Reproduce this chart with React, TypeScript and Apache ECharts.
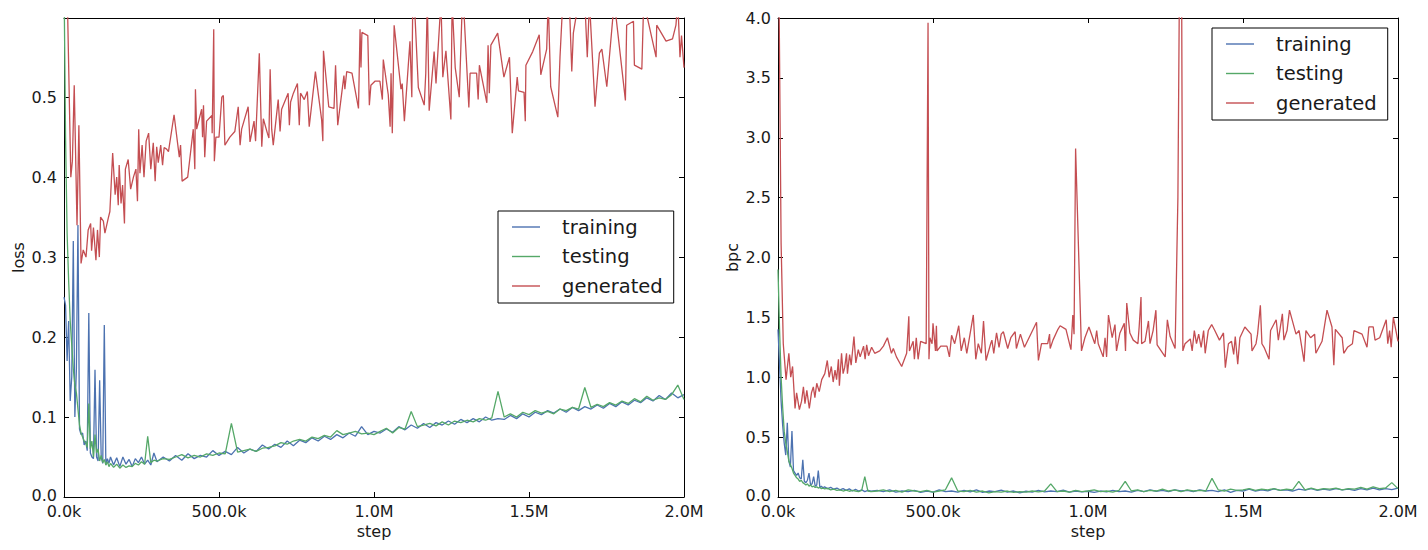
import React, { useEffect, useRef } from "react";
import * as echarts from "echarts";

// shared x positions (thousands of steps) for training / testing curves
const steps = [
  0, 5, 10, 15, 20, 25, 30, 35, 40, 45, 50, 55, 60, 65, 70, 75, 80, 85, 90, 95,
  100, 105, 110, 115, 120, 125, 130, 135, 140, 145,
  150, 160, 170, 180, 190, 200, 210, 220, 230, 240, 250, 260, 270, 280, 290, 300,
  320, 340, 360, 380, 400, 420, 440, 460, 480, 500,
  520, 540, 560, 580, 600, 620, 640, 660, 680, 700,
  720, 740, 760, 780, 800, 820, 840, 860, 880, 900,
  920, 940, 960, 980, 1000, 1020, 1040, 1060, 1080, 1100,
  1120, 1140, 1160, 1180, 1200, 1220, 1240, 1260, 1280, 1300,
  1320, 1340, 1360, 1380, 1400, 1420, 1440, 1460, 1480, 1500,
  1520, 1540, 1560, 1580, 1600, 1620, 1640, 1660, 1680, 1700,
  1720, 1740, 1760, 1780, 1800, 1820, 1840, 1860, 1880, 1900,
  1920, 1940, 1960, 1980, 2000,
];

const lossTraining = [
  0.25, 0.24, 0.17, 0.22, 0.12, 0.15, 0.32, 0.10, 0.16, 0.34, 0.085, 0.078, 0.08, 0.065, 0.07, 0.058, 0.23, 0.055, 0.05, 0.048,
  0.159, 0.05, 0.045, 0.146, 0.05, 0.042, 0.215, 0.04, 0.048, 0.042,
  0.05, 0.04, 0.049, 0.038, 0.05, 0.041, 0.047, 0.038, 0.048, 0.043, 0.05, 0.041, 0.046, 0.04, 0.055, 0.044,
  0.05, 0.045, 0.052, 0.046, 0.054, 0.048, 0.052, 0.05, 0.058, 0.052,
  0.057, 0.053, 0.062, 0.055, 0.06, 0.057, 0.065, 0.06, 0.066, 0.062,
  0.07, 0.064, 0.071, 0.068, 0.074, 0.07, 0.076, 0.072, 0.078, 0.074,
  0.08, 0.076, 0.088, 0.078, 0.082, 0.08, 0.085, 0.081, 0.088, 0.084,
  0.09, 0.086, 0.092, 0.087, 0.093, 0.09, 0.095, 0.091, 0.097, 0.093,
  0.098, 0.094, 0.1, 0.096, 0.098, 0.097, 0.102, 0.098, 0.104, 0.1,
  0.106, 0.103, 0.108, 0.105, 0.11, 0.106, 0.112, 0.108, 0.113, 0.11,
  0.115, 0.111, 0.117, 0.113, 0.119, 0.115, 0.121, 0.118, 0.124, 0.12,
  0.127, 0.122, 0.13, 0.124, 0.128,
];

const lossTesting = [
  0.65, 0.45, 0.33, 0.27, 0.22, 0.19, 0.16, 0.14, 0.13, 0.11, 0.09, 0.08, 0.075, 0.07, 0.068, 0.062, 0.117, 0.06, 0.07, 0.05,
  0.078, 0.055, 0.06, 0.045, 0.052, 0.043, 0.047, 0.04, 0.044, 0.038,
  0.042, 0.037, 0.041, 0.036, 0.04, 0.037, 0.039, 0.038, 0.042, 0.04, 0.044, 0.041, 0.076, 0.043, 0.046, 0.045,
  0.048, 0.047, 0.05, 0.053, 0.049, 0.052, 0.05, 0.054, 0.052, 0.055,
  0.054, 0.092, 0.056, 0.058, 0.06, 0.057, 0.061, 0.062, 0.064, 0.068,
  0.066, 0.07, 0.072, 0.07, 0.075, 0.073, 0.077, 0.075, 0.083, 0.078,
  0.08, 0.082, 0.079, 0.08, 0.078, 0.082, 0.086, 0.08, 0.087, 0.085,
  0.107, 0.088, 0.09, 0.092, 0.089, 0.094, 0.09, 0.095, 0.093, 0.096,
  0.094, 0.098, 0.096, 0.099, 0.132, 0.1, 0.104, 0.1, 0.106, 0.103,
  0.108, 0.105, 0.107, 0.104, 0.11, 0.108, 0.112, 0.11, 0.137, 0.112,
  0.116, 0.113, 0.118, 0.115, 0.12, 0.117, 0.123, 0.119, 0.126, 0.121,
  0.124, 0.122, 0.128, 0.14, 0.122,
];

const bpcTraining = [
  1.4, 1.1, 0.8, 0.6, 0.45, 0.35, 0.62, 0.3, 0.25, 0.55, 0.22, 0.2, 0.18, 0.2, 0.16, 0.15, 0.31, 0.13, 0.12, 0.14,
  0.2, 0.1, 0.11, 0.17, 0.09, 0.1, 0.22, 0.08, 0.09, 0.075,
  0.085, 0.07, 0.08, 0.065, 0.075, 0.06, 0.07, 0.055, 0.068, 0.05, 0.065, 0.05, 0.06, 0.045, 0.055, 0.048,
  0.055, 0.045, 0.06, 0.04, 0.05, 0.045, 0.055, 0.038, 0.05, 0.04,
  0.06, 0.045, 0.05, 0.04, 0.055, 0.042, 0.06, 0.038, 0.05, 0.045,
  0.058, 0.04, 0.05, 0.035, 0.048, 0.04, 0.055, 0.042, 0.05, 0.045,
  0.058, 0.04, 0.05, 0.042, 0.048, 0.038, 0.05, 0.042, 0.055, 0.045,
  0.05, 0.04, 0.055, 0.045, 0.06, 0.048, 0.055, 0.045, 0.06, 0.05,
  0.055, 0.045, 0.06, 0.05, 0.055, 0.045, 0.06, 0.038, 0.055, 0.05,
  0.065, 0.05, 0.06, 0.052, 0.068, 0.055, 0.06, 0.05, 0.065, 0.058,
  0.07, 0.055, 0.065, 0.058, 0.07, 0.06, 0.065, 0.055, 0.07, 0.06,
  0.075, 0.06, 0.07, 0.062, 0.075,
];

const bpcTesting = [
  1.9, 1.4, 1.0, 0.75, 0.55, 0.45, 0.38, 0.3, 0.27, 0.24, 0.2, 0.18, 0.16, 0.15, 0.13, 0.14, 0.12, 0.11, 0.1, 0.11,
  0.09, 0.1, 0.085, 0.09, 0.08, 0.085, 0.075, 0.08, 0.07, 0.075,
  0.068, 0.072, 0.06, 0.065, 0.055, 0.06, 0.05, 0.058, 0.048, 0.055, 0.05, 0.045, 0.055, 0.17, 0.05, 0.045,
  0.05, 0.06, 0.045, 0.055, 0.04, 0.06, 0.05, 0.045, 0.055, 0.04,
  0.05, 0.06, 0.16, 0.05, 0.045, 0.055, 0.04, 0.05, 0.035, 0.045,
  0.04, 0.05, 0.038, 0.045, 0.04, 0.05, 0.042, 0.05, 0.11, 0.045,
  0.05, 0.04, 0.055, 0.045, 0.05, 0.06, 0.045, 0.05, 0.04, 0.055,
  0.13, 0.05, 0.06, 0.045, 0.055, 0.05, 0.065, 0.05, 0.06, 0.045,
  0.06, 0.05, 0.055, 0.05, 0.156, 0.06, 0.05, 0.065, 0.055, 0.06,
  0.07, 0.055, 0.065, 0.06, 0.07, 0.055, 0.065, 0.06, 0.13, 0.06,
  0.075, 0.06, 0.07, 0.065, 0.075, 0.06, 0.07, 0.065, 0.08, 0.065,
  0.085, 0.07, 0.075, 0.12, 0.07,
];

// generated curves: [step (k), value]
const lossGenerated = [
  [0, 0.7], [12, 0.6], [22, 0.4], [27, 0.42], [33, 0.515], [42, 0.34], [48, 0.465], [55, 0.292], [62, 0.309], [71, 0.3],
  [78, 0.334], [86, 0.342], [89, 0.308], [95, 0.337], [103, 0.296], [108, 0.334], [114, 0.3], [118, 0.35], [127, 0.345], [132, 0.33],
  [143, 0.349], [148, 0.357], [157, 0.43], [165, 0.378], [170, 0.4], [175, 0.365], [178, 0.415], [184, 0.367], [189, 0.39], [195, 0.342],
  [198, 0.41], [207, 0.422], [215, 0.385], [224, 0.4], [232, 0.41], [237, 0.37], [241, 0.46], [245, 0.405], [252, 0.44], [258, 0.4],
  [265, 0.445], [273, 0.455], [280, 0.41], [288, 0.443], [294, 0.395], [299, 0.438], [304, 0.418], [312, 0.44], [318, 0.415], [323, 0.437],
  [331, 0.435], [337, 0.432], [355, 0.478], [372, 0.425], [376, 0.44], [381, 0.395], [399, 0.4], [417, 0.46], [422, 0.41], [424, 0.51],
  [428, 0.46], [444, 0.485], [447, 0.45], [450, 0.49], [454, 0.425], [460, 0.47], [477, 0.477], [478, 0.455], [483, 0.585], [485, 0.42],
  [490, 0.45], [500, 0.45], [509, 0.5], [514, 0.502], [519, 0.44], [535, 0.45], [551, 0.457], [562, 0.488], [568, 0.44], [573, 0.46],
  [594, 0.488], [600, 0.444], [613, 0.47], [618, 0.445], [630, 0.555], [638, 0.438], [643, 0.473], [656, 0.455], [661, 0.449], [665, 0.535],
  [670, 0.46], [675, 0.44], [691, 0.497], [697, 0.457], [702, 0.485], [723, 0.505], [727, 0.465], [731, 0.494], [740, 0.505], [753, 0.517],
  [759, 0.465], [763, 0.505], [775, 0.497], [785, 0.507], [791, 0.463], [811, 0.532], [831, 0.472], [835, 0.445], [837, 0.558], [854, 0.488],
  [871, 0.486], [876, 0.54], [883, 0.465], [903, 0.527], [906, 0.51], [912, 0.532], [929, 0.53], [950, 0.486], [955, 0.585], [958, 0.537],
  [961, 0.581], [980, 0.577], [985, 0.49], [990, 0.515], [1003, 0.52], [1019, 0.52], [1027, 0.497], [1030, 0.547], [1046, 0.503], [1052, 0.463],
  [1055, 0.53], [1059, 0.455], [1065, 0.59], [1087, 0.51], [1091, 0.517], [1098, 0.47], [1116, 0.57], [1122, 0.5], [1125, 0.62], [1130, 0.62],
  [1143, 0.512], [1162, 0.49], [1167, 0.53], [1172, 0.62], [1178, 0.483], [1194, 0.557], [1200, 0.517], [1216, 0.62], [1222, 0.525], [1232, 0.558],
  [1248, 0.472], [1252, 0.62], [1262, 0.537], [1275, 0.5], [1285, 0.62], [1291, 0.6], [1306, 0.487], [1310, 0.53], [1331, 0.53], [1336, 0.497],
  [1340, 0.54], [1345, 0.53], [1364, 0.493], [1368, 0.565], [1372, 0.505], [1377, 0.565], [1399, 0.58], [1419, 0.525], [1437, 0.55], [1446, 0.455],
  [1462, 0.525], [1466, 0.508], [1484, 0.506], [1488, 0.47], [1490, 0.54], [1512, 0.557], [1533, 0.578], [1538, 0.528], [1557, 0.56], [1562, 0.62],
  [1570, 0.513], [1593, 0.475], [1600, 0.55], [1609, 0.62], [1630, 0.62], [1638, 0.532], [1643, 0.58], [1660, 0.62], [1680, 0.62], [1688, 0.55],
  [1695, 0.62], [1713, 0.488], [1727, 0.555], [1735, 0.56], [1751, 0.513], [1775, 0.62], [1811, 0.496], [1815, 0.59], [1837, 0.595], [1840, 0.54],
  [1864, 0.535], [1870, 0.62], [1910, 0.55], [1912, 0.59], [1942, 0.57], [1963, 0.573], [1974, 0.59], [1980, 0.62], [1987, 0.55], [1992, 0.577],
  [2000, 0.537],
];

const bpcGenerated = [
  [0, 4.3], [4, 3.98], [10, 2.12], [17, 1.28], [26, 0.98], [35, 1.2], [41, 1.0], [47, 1.09], [55, 0.74], [60, 0.87],
  [69, 0.73], [76, 0.8], [82, 0.92], [87, 0.78], [93, 0.89], [101, 0.74], [108, 0.87], [114, 0.92], [119, 0.83], [125, 0.95],
  [133, 0.88], [141, 0.98], [151, 1.03], [159, 1.14], [165, 1.0], [172, 1.09], [178, 0.96], [184, 1.06], [189, 0.98], [195, 1.15],
  [198, 0.93], [205, 1.2], [210, 1.03], [215, 1.08], [221, 1.2], [224, 1.03], [231, 1.19], [236, 1.1], [245, 1.34], [251, 1.12],
  [259, 1.23], [265, 1.17], [276, 1.26], [281, 1.15], [286, 1.27], [292, 1.18], [302, 1.25], [312, 1.2], [328, 1.22], [340, 1.26],
  [353, 1.33], [366, 1.2], [372, 1.24], [382, 1.17], [399, 1.09], [415, 1.2], [422, 1.51], [424, 1.22], [436, 1.3], [440, 1.15],
  [446, 1.33], [452, 1.15], [460, 1.3], [478, 1.28], [484, 3.96], [487, 1.15], [490, 1.33], [497, 1.28], [500, 1.45], [508, 1.22],
  [511, 1.43], [513, 1.22], [525, 1.26], [545, 1.26], [553, 1.17], [560, 1.35], [570, 1.28], [583, 1.43], [591, 1.22], [601, 1.33],
  [609, 1.2], [630, 1.52], [638, 1.15], [646, 1.28], [656, 1.2], [663, 1.47], [671, 1.14], [686, 1.28], [690, 1.31], [696, 1.2],
  [705, 1.37], [713, 1.25], [720, 1.36], [727, 1.38], [741, 1.24], [751, 1.33], [765, 1.38], [769, 1.24], [782, 1.36], [795, 1.25],
  [834, 1.46], [840, 1.14], [850, 1.28], [870, 1.28], [876, 1.36], [878, 1.24], [887, 1.31], [903, 1.4], [910, 1.43], [929, 1.4],
  [945, 1.23], [951, 1.52], [955, 1.36], [960, 2.91], [979, 1.22], [990, 1.33], [1003, 1.42], [1022, 1.28], [1028, 1.39], [1033, 1.28],
  [1049, 1.17], [1055, 1.33], [1060, 1.17], [1066, 1.52], [1078, 1.33], [1087, 1.44], [1092, 1.22], [1103, 1.37], [1117, 1.45], [1121, 1.22],
  [1125, 1.62], [1135, 1.37], [1146, 1.31], [1161, 1.28], [1165, 1.42], [1171, 1.67], [1173, 1.28], [1184, 1.3], [1195, 1.47], [1200, 1.28],
  [1210, 1.39], [1219, 1.56], [1223, 1.27], [1249, 1.17], [1256, 1.48], [1265, 1.34], [1281, 1.24], [1290, 2.5], [1295, 4.3], [1302, 4.3],
  [1306, 1.22], [1313, 1.28], [1330, 1.32], [1336, 1.22], [1343, 1.39], [1350, 1.28], [1357, 1.36], [1365, 1.25], [1373, 1.39], [1378, 1.2],
  [1388, 1.39], [1399, 1.44], [1409, 1.39], [1424, 1.31], [1437, 1.37], [1443, 1.08], [1453, 1.28], [1463, 1.3], [1470, 1.19], [1475, 1.34],
  [1483, 1.11], [1490, 1.33], [1506, 1.42], [1526, 1.36], [1529, 1.22], [1542, 1.28], [1547, 1.36], [1556, 1.6], [1561, 1.28], [1568, 1.25],
  [1584, 1.15], [1589, 1.39], [1607, 1.48], [1614, 1.31], [1627, 1.53], [1632, 1.31], [1642, 1.39], [1650, 1.56], [1671, 1.36], [1681, 1.39],
  [1697, 1.13], [1703, 1.39], [1718, 1.33], [1731, 1.36], [1735, 1.2], [1755, 1.3], [1771, 1.56], [1787, 1.42], [1793, 1.1], [1798, 1.4],
  [1820, 1.33], [1825, 1.2], [1837, 1.25], [1853, 1.28], [1858, 1.39], [1884, 1.36], [1900, 1.25], [1906, 1.42], [1920, 1.42], [1926, 1.31],
  [1941, 1.33], [1962, 1.48], [1967, 1.28], [1973, 1.39], [1978, 1.25], [1985, 1.5], [2000, 1.3],
];

const stepTickValues = [0, 500, 1000, 1500, 2000];
const stepTickLabels = ["0.0k", "500.0k", "1.0M", "1.5M", "2.0M"];
const lossTickLabels = ["0.0", "0.1", "0.2", "0.3", "0.4", "0.5"];
const bpcTickLabels = ["0.0", "0.5", "1.0", "1.5", "2.0", "2.5", "3.0", "3.5", "4.0"];
const seriesNames = ["training", "testing", "generated"];
const colors = ["#4C72B0", "#55A868", "#C44E52"];

const FONT = "DejaVu Sans";
const TXT = "#1a1a1a";

function pairs(xs: number[], ys: number[]) {
  return xs.map((x, i) => [x, ys[i]]);
}

function stepLabel(v: number) {
  const i = stepTickValues.indexOf(v);
  return i >= 0 ? stepTickLabels[i] : "";
}

function tickLabel(labels: string[], step: number) {
  return (v: number) => {
    const i = Math.round(v / step);
    if (Math.abs(v - i * step) > 1e-6 || i < 0 || i >= labels.length) return "";
    return i === 0 ? "{lo|" + labels[i] + "}" : labels[i];
  };
}

const axisLineStyle = { show: true, lineStyle: { color: "#000", width: 1 } };
const tickStyle = { show: true, inside: true, length: 5, lineStyle: { color: "#000", width: 1 } };

function xAxes(grid: number) {
  return [
    {
      gridIndex: grid, type: "value", position: "bottom", min: 0, max: 2000, interval: 500,
      axisLine: { ...axisLineStyle, onZero: false }, axisTick: tickStyle, splitLine: { show: false },
      axisLabel: { formatter: stepLabel, fontFamily: FONT, fontSize: 16, color: TXT, margin: 7, lineHeight: 14 },
      name: "step", nameLocation: "middle", nameGap: 26,
      nameTextStyle: { fontFamily: FONT, fontSize: 16, color: TXT },
    },
    {
      gridIndex: grid, type: "value", position: "top", min: 0, max: 2000, interval: 500,
      axisLine: { ...axisLineStyle, onZero: false }, axisTick: tickStyle, splitLine: { show: false },
      axisLabel: { show: false },
    },
  ];
}

function yAxes(grid: number, max: number, interval: number, labels: string[], name: string) {
  return [
    {
      gridIndex: grid, type: "value", position: "left", min: 0, max, interval,
      axisLine: { ...axisLineStyle, onZero: false }, axisTick: tickStyle, splitLine: { show: false },
      axisLabel: {
        formatter: tickLabel(labels, interval), fontFamily: FONT, fontSize: 16, color: TXT, margin: 7, lineHeight: 12,
        rich: { lo: { fontFamily: FONT, fontSize: 16, color: TXT, lineHeight: 12, padding: [0, 0, 4, 0] } },
      },
      name, nameLocation: "middle", nameGap: 38, nameRotate: 90,
      nameTextStyle: { fontFamily: FONT, fontSize: 16, color: TXT },
    },
    {
      gridIndex: grid, type: "value", position: "right", min: 0, max, interval,
      axisLine: { ...axisLineStyle, onZero: false }, axisTick: tickStyle, splitLine: { show: false },
      axisLabel: { show: false },
    },
  ];
}

function line(name: string, color: string, data: number[][], xi: number, yi: number) {
  return {
    type: "line", name, data, xAxisIndex: xi, yAxisIndex: yi,
    symbol: "none", showSymbol: false, clip: true,
    lineStyle: { color, width: 1.3 }, itemStyle: { color },
  };
}

function legend(left: number, top: number) {
  return {
    data: seriesNames, orient: "vertical", left, top,
    borderColor: "#000", borderWidth: 1, borderRadius: 0, backgroundColor: "#fff",
    padding: [5, 11, 6, 14], itemGap: 7.5, itemWidth: 28, itemHeight: 1.4,
    icon: "rect",
    selectedMode: false,
    textStyle: { fontFamily: FONT, fontSize: 19.5, color: TXT, lineHeight: 22, padding: [0, 0, 0, 17] },
  };
}

export default function App() {
  const ref = useRef<HTMLDivElement>(null);
  useEffect(() => {
    const chart = echarts.init(ref.current!, null, { renderer: "svg" });
    const option = {
      animation: false,
      backgroundColor: "#fff",
      grid: [
        { left: 64, top: 18, width: 620, height: 479 },
        { left: 778, top: 18, width: 620, height: 479 },
      ],
      xAxis: [...xAxes(0), ...xAxes(1)],
      yAxis: [...yAxes(0, 0.599, 0.1, lossTickLabels, "loss"), ...yAxes(1, 4, 0.5, bpcTickLabels, "bpc")],
      legend: [legend(498, 211), legend(1212, 28)],
      series: [
        line(seriesNames[0], colors[0], pairs(steps, lossTraining), 0, 0),
        line(seriesNames[1], colors[1], pairs(steps, lossTesting), 0, 0),
        line(seriesNames[2], colors[2], lossGenerated, 0, 0),
        line(seriesNames[0], colors[0], pairs(steps, bpcTraining), 2, 2),
        line(seriesNames[1], colors[1], pairs(steps, bpcTesting), 2, 2),
        line(seriesNames[2], colors[2], bpcGenerated, 2, 2),
      ],
    };
    chart.setOption(option as any);
    return () => chart.dispose();
  }, []);
  return (
    <div
      ref={ref}
      style={{ position: "absolute", left: 0, top: 0, width: 1428, height: 550, background: "#fff" }}
    />
  );
}
